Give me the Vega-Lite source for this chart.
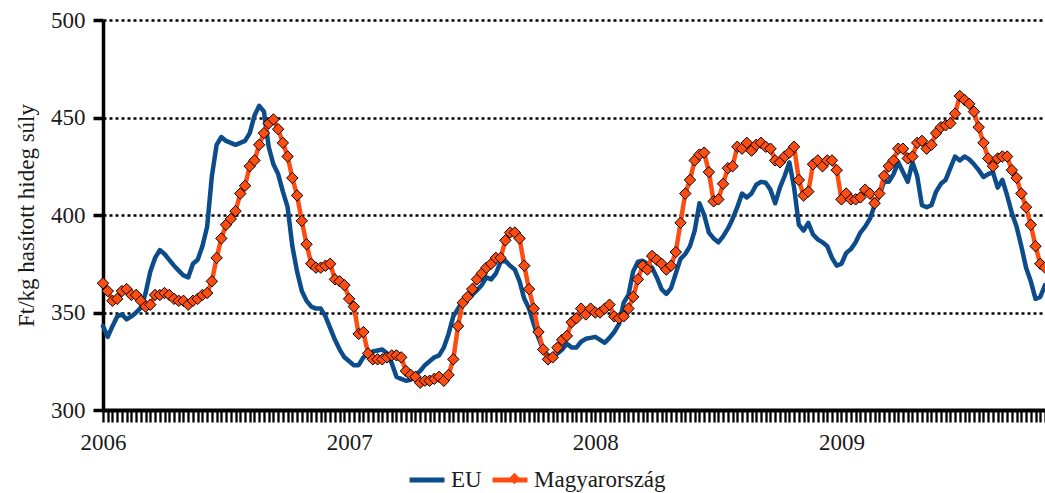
{
"$schema": "https://vega.github.io/schema/vega-lite/v6.json",
"width": 942, "height": 390,
"autosize": {"type": "none"},
"padding": {"left": 103, "top": 20, "right": 0, "bottom": 83},
"background": "white",
"config": {"view": {"stroke": null}, "font": "Liberation Serif"},
"data": {"values": [
{"het":0,"EU":343,"Magyarország":365},{"het":1,"EU":337.5,"Magyarország":361},{"het":2,"EU":343,"Magyarország":356},{"het":3,"EU":348,"Magyarország":357},{"het":4,"EU":349,"Magyarország":361},
{"het":5,"EU":346.5,"Magyarország":362},{"het":6,"EU":348,"Magyarország":359},{"het":7,"EU":350,"Magyarország":359},{"het":8,"EU":352.5,"Magyarország":356},{"het":9,"EU":360,"Magyarország":353},
{"het":10,"EU":371,"Magyarország":354},{"het":11,"EU":378,"Magyarország":359},{"het":12,"EU":382,"Magyarország":359},{"het":13,"EU":380,"Magyarország":360},{"het":14,"EU":377,"Magyarország":359},
{"het":15,"EU":374,"Magyarország":357},{"het":16,"EU":371.5,"Magyarország":356},{"het":17,"EU":369,"Magyarország":356},{"het":18,"EU":368,"Magyarország":354},{"het":19,"EU":375,"Magyarország":356},
{"het":20,"EU":377,"Magyarország":357},{"het":21,"EU":384,"Magyarország":359},{"het":22,"EU":394,"Magyarország":360},{"het":23,"EU":420,"Magyarország":366},{"het":24,"EU":436,"Magyarország":378},
{"het":25,"EU":440,"Magyarország":388},{"het":26,"EU":438,"Magyarország":395},{"het":27,"EU":437,"Magyarország":398},{"het":28,"EU":436,"Magyarország":402},{"het":29,"EU":437,"Magyarország":411},
{"het":30,"EU":438,"Magyarország":415},{"het":31,"EU":442,"Magyarország":425},{"het":32,"EU":451,"Magyarország":428},{"het":33,"EU":456,"Magyarország":436},{"het":34,"EU":453,"Magyarország":442},
{"het":35,"EU":435,"Magyarország":447},{"het":36,"EU":426,"Magyarország":449},{"het":37,"EU":421,"Magyarország":444},{"het":38,"EU":412,"Magyarország":437},{"het":39,"EU":404,"Magyarország":430},
{"het":40,"EU":384,"Magyarország":419},{"het":41,"EU":371,"Magyarország":410},{"het":42,"EU":361,"Magyarország":397},{"het":43,"EU":356,"Magyarország":385},{"het":44,"EU":353,"Magyarország":375},
{"het":45,"EU":352,"Magyarország":373},{"het":46,"EU":352,"Magyarország":373},{"het":47,"EU":348,"Magyarország":374},{"het":48,"EU":342,"Magyarország":375},{"het":49,"EU":336,"Magyarország":367},
{"het":50,"EU":331,"Magyarország":366},{"het":51,"EU":327,"Magyarország":364},{"het":52,"EU":325,"Magyarország":357},{"het":53,"EU":323,"Magyarország":353},{"het":54,"EU":323,"Magyarország":339},
{"het":55,"EU":327,"Magyarország":340},{"het":56,"EU":328.5,"Magyarország":329},{"het":57,"EU":330,"Magyarország":326},{"het":58,"EU":330.5,"Magyarország":326},{"het":59,"EU":331,"Magyarország":326},
{"het":60,"EU":329,"Magyarország":327},{"het":61,"EU":324,"Magyarország":328},{"het":62,"EU":317,"Magyarország":328},{"het":63,"EU":316,"Magyarország":327},{"het":64,"EU":315,"Magyarország":320},
{"het":65,"EU":315.5,"Magyarország":318},{"het":66,"EU":318,"Magyarország":317},{"het":67,"EU":320,"Magyarország":314},{"het":68,"EU":323,"Magyarország":315},{"het":69,"EU":325,"Magyarország":315},
{"het":70,"EU":327,"Magyarország":316},{"het":71,"EU":328,"Magyarország":317},{"het":72,"EU":332,"Magyarország":315},{"het":73,"EU":339,"Magyarország":318},{"het":74,"EU":348,"Magyarország":326},
{"het":75,"EU":352,"Magyarország":343},{"het":76,"EU":356,"Magyarország":355},{"het":77,"EU":357,"Magyarország":358},{"het":78,"EU":359,"Magyarország":362},{"het":79,"EU":361.5,"Magyarország":367},
{"het":80,"EU":364,"Magyarország":370},{"het":81,"EU":368,"Magyarország":373},{"het":82,"EU":367,"Magyarország":375},{"het":83,"EU":370,"Magyarország":378},{"het":84,"EU":376,"Magyarország":378},
{"het":85,"EU":376.5,"Magyarország":387},{"het":86,"EU":374,"Magyarország":391},{"het":87,"EU":372,"Magyarország":391},{"het":88,"EU":366,"Magyarország":388},{"het":89,"EU":357,"Magyarország":374},
{"het":90,"EU":352,"Magyarország":362},{"het":91,"EU":344,"Magyarország":352},{"het":92,"EU":337,"Magyarország":340},{"het":93,"EU":331,"Magyarország":331},{"het":94,"EU":328,"Magyarország":326},
{"het":95,"EU":327.5,"Magyarország":327},{"het":96,"EU":329,"Magyarország":332},{"het":97,"EU":331,"Magyarország":336},{"het":98,"EU":334,"Magyarország":338},{"het":99,"EU":332,"Magyarország":345},
{"het":100,"EU":332,"Magyarország":347},{"het":101,"EU":335,"Magyarország":352},{"het":102,"EU":336.5,"Magyarország":349},{"het":103,"EU":337,"Magyarország":352},{"het":104,"EU":337.5,"Magyarország":350},
{"het":105,"EU":336,"Magyarország":350},{"het":106,"EU":334.5,"Magyarország":352},{"het":107,"EU":337,"Magyarország":354},{"het":108,"EU":340,"Magyarország":348},{"het":109,"EU":344,"Magyarország":347},
{"het":110,"EU":355,"Magyarország":348},{"het":111,"EU":359,"Magyarország":352},{"het":112,"EU":371,"Magyarország":358},{"het":113,"EU":376,"Magyarország":367},{"het":114,"EU":376.5,"Magyarország":374},
{"het":115,"EU":375,"Magyarország":372},{"het":116,"EU":373,"Magyarország":379},{"het":117,"EU":368,"Magyarország":377},{"het":118,"EU":362,"Magyarország":375},{"het":119,"EU":359.5,"Magyarország":372},
{"het":120,"EU":362.5,"Magyarország":374},{"het":121,"EU":370,"Magyarország":381},{"het":122,"EU":377.5,"Magyarország":396},{"het":123,"EU":380,"Magyarország":411},{"het":124,"EU":384,"Magyarország":418},
{"het":125,"EU":392,"Magyarország":428},{"het":126,"EU":406,"Magyarország":431},{"het":127,"EU":400,"Magyarország":432},{"het":128,"EU":391,"Magyarország":422},{"het":129,"EU":388,"Magyarország":407},
{"het":130,"EU":386,"Magyarország":408},{"het":131,"EU":389,"Magyarország":416},{"het":132,"EU":393,"Magyarország":424},{"het":133,"EU":398,"Magyarország":425},{"het":134,"EU":404,"Magyarország":435},
{"het":135,"EU":411,"Magyarország":434},{"het":136,"EU":409,"Magyarország":437},{"het":137,"EU":411,"Magyarország":433},{"het":138,"EU":415.5,"Magyarország":436},{"het":139,"EU":417,"Magyarország":437},
{"het":140,"EU":416.5,"Magyarország":435},{"het":141,"EU":413,"Magyarország":434},{"het":142,"EU":406,"Magyarország":428},{"het":143,"EU":414,"Magyarország":427},{"het":144,"EU":420,"Magyarország":430},
{"het":145,"EU":427,"Magyarország":432},{"het":146,"EU":414,"Magyarország":435},{"het":147,"EU":395,"Magyarország":418},{"het":148,"EU":392,"Magyarország":410},{"het":149,"EU":396,"Magyarország":412},
{"het":150,"EU":390,"Magyarország":426},{"het":151,"EU":387.5,"Magyarország":428},{"het":152,"EU":386,"Magyarország":425},{"het":153,"EU":384,"Magyarország":428},{"het":154,"EU":378,"Magyarország":428},
{"het":155,"EU":374,"Magyarország":423},{"het":156,"EU":375,"Magyarország":408},{"het":157,"EU":380.5,"Magyarország":411},{"het":158,"EU":382.5,"Magyarország":408},{"het":159,"EU":386,"Magyarország":408},
{"het":160,"EU":391,"Magyarország":409},{"het":161,"EU":394,"Magyarország":413},{"het":162,"EU":398,"Magyarország":411},{"het":163,"EU":405,"Magyarország":406},{"het":164,"EU":410,"Magyarország":411},
{"het":165,"EU":417,"Magyarország":420},{"het":166,"EU":417,"Magyarország":425},{"het":167,"EU":421,"Magyarország":428},{"het":168,"EU":427,"Magyarország":434},{"het":169,"EU":422,"Magyarország":434},
{"het":170,"EU":417,"Magyarország":429},{"het":171,"EU":427,"Magyarország":430},{"het":172,"EU":420,"Magyarország":437},{"het":173,"EU":405,"Magyarország":438},{"het":174,"EU":404,"Magyarország":434},
{"het":175,"EU":405,"Magyarország":436},{"het":176,"EU":412,"Magyarország":442},{"het":177,"EU":416,"Magyarország":445},{"het":178,"EU":418,"Magyarország":446},{"het":179,"EU":424,"Magyarország":447},
{"het":180,"EU":430,"Magyarország":452},{"het":181,"EU":428,"Magyarország":461},{"het":182,"EU":430,"Magyarország":459},{"het":183,"EU":428.5,"Magyarország":457},{"het":184,"EU":426,"Magyarország":453},
{"het":185,"EU":423,"Magyarország":445},{"het":186,"EU":419.5,"Magyarország":437},{"het":187,"EU":421,"Magyarország":429},{"het":188,"EU":422,"Magyarország":425},{"het":189,"EU":414,"Magyarország":429},
{"het":190,"EU":418,"Magyarország":430},{"het":191,"EU":410,"Magyarország":430},{"het":192,"EU":401,"Magyarország":423},{"het":193,"EU":394,"Magyarország":419},{"het":194,"EU":384,"Magyarország":411},
{"het":195,"EU":373,"Magyarország":404},{"het":196,"EU":366,"Magyarország":395},{"het":197,"EU":357,"Magyarország":384},{"het":198,"EU":358,"Magyarország":375},{"het":199,"EU":364,"Magyarország":373}
]},
"transform": [{"fold": ["EU", "Magyarország"], "as": ["sorozat", "ar"]}],
"encoding": {
  "x": {"field": "het", "type": "quantitative",
        "scale": {"domain": [0, 199], "nice": false, "zero": false},
        "axis": {"title": null, "tickCount": 200,
                 "labelExpr": "datum.value == 0 ? '2006' : datum.value == 52 ? '2007' : datum.value == 104 ? '2008' : datum.value == 156 ? '2009' : ''",
                 "labelOverlap": false, "labelFlush": false, "labelBound": false, "grid": false,
                 "domainColor": "black", "domainWidth": 4, "tickColor": "black", "tickWidth": 2.3, "tickSize": 12,
                 "labelFont": "Liberation Serif", "labelFontSize": 23, "labelColor": "#1a1a1a", "labelPadding": 9}},
  "y": {"field": "ar", "type": "quantitative",
        "scale": {"domain": [300, 500], "nice": false, "zero": false},
        "axis": {"title": "Ft/kg hasított hideg súly", "values": [300, 350, 400, 450, 500],
                 "grid": true, "gridColor": "black", "gridDash": [3, 3], "gridWidth": 2.5,
                 "domainColor": "black", "domainWidth": 3.5, "tickColor": "black", "tickWidth": 3.5, "tickSize": 10,
                 "labelFont": "Liberation Serif", "labelFontSize": 23, "labelColor": "#1a1a1a", "labelPadding": 8,
                 "titleFont": "Liberation Serif", "titleFontSize": 23, "titleFontWeight": "normal", "titleColor": "#1a1a1a", "titlePadding": 12}}
},
"layer": [
  {"mark": {"type": "line", "strokeWidth": 4.5, "strokeJoin": "round", "strokeCap": "round"},
   "encoding": {
     "color": {"field": "sorozat", "type": "nominal",
               "scale": {"domain": ["EU", "Magyarország"], "range": ["#0D4C8A", "#FF4D12"]},
               "legend": {"orient": "none", "legendX": 304, "legendY": 440, "direction": "horizontal", "title": null,
                          "symbolType": "stroke", "symbolSize": 1225, "symbolStrokeWidth": 5,
                          "labelFont": "Liberation Serif", "labelFontSize": 23, "labelColor": "#1a1a1a",
                          "labelOffset": 4, "columnPadding": 0, "padding": 0}}
   }},
  {"transform": [{"filter": "datum.sorozat == 'Magyarország'"}],
   "mark": {"type": "point", "filled": true, "size": 130, "fill": "#FF4D12", "stroke": "black", "strokeWidth": 1, "opacity": 1},
   "encoding": {
     "shape": {"field": "sorozat", "type": "nominal",
               "scale": {"domain": ["Magyarország"], "range": ["diamond"]},
               "legend": {"orient": "none", "legendX": 400, "legendY": 447, "title": null,
                          "labelExpr": "''", "symbolSize": 130, "symbolFillColor": "#FF4D12", "symbolStrokeColor": "black",
                          "symbolStrokeWidth": 1, "symbolOpacity": 1,
                          "labelFont": "Liberation Serif", "labelFontSize": 23, "padding": 0}}
   }}
]
}
